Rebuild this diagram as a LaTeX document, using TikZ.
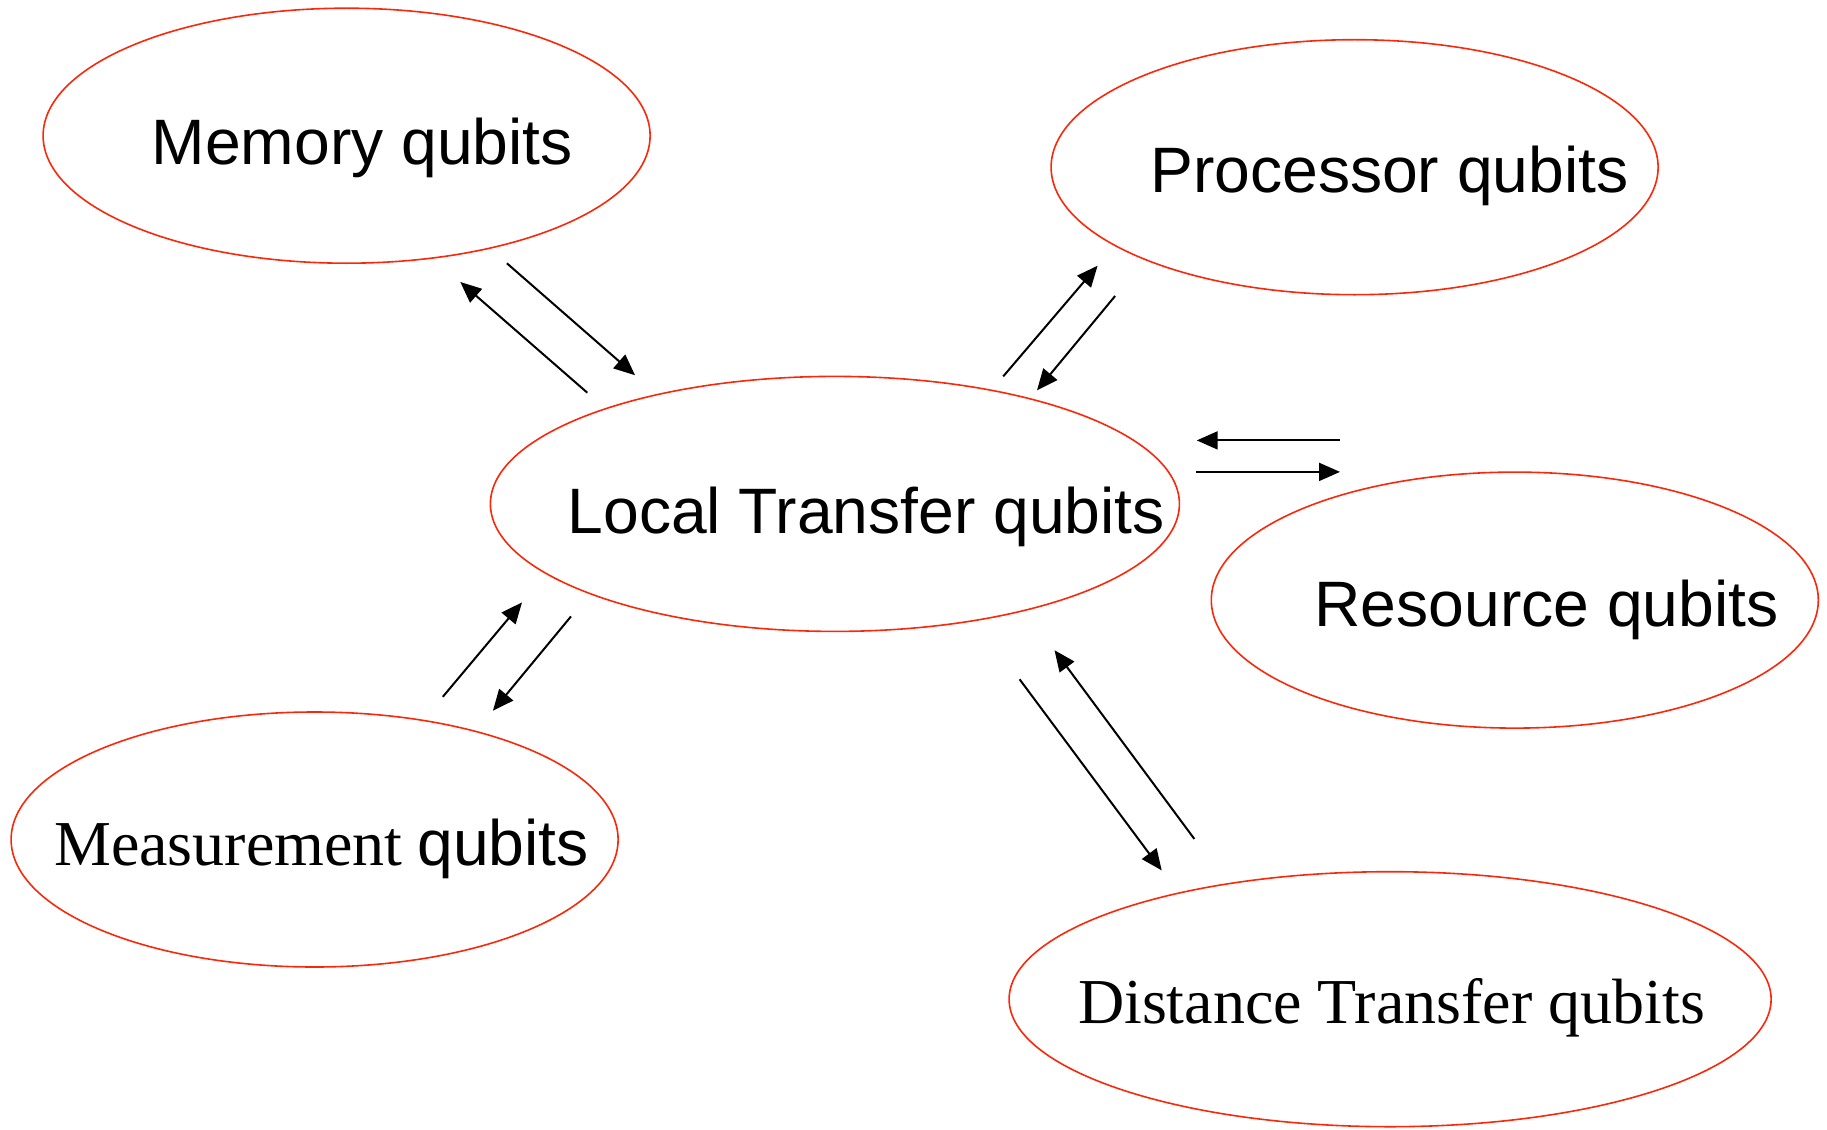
\documentclass[tikz,border=0pt]{standalone}
\usepackage{fontspec}
\setmainfont{Liberation Serif}
\newfontfamily\arialf{Liberation Sans}
\usetikzlibrary{shapes.geometric,arrows.meta}
\definecolor{ellred}{RGB}{250,40,10}
\begin{document}
\begin{tikzpicture}[x=1pt,y=-1pt,
  oval/.style={ellipse,draw=ellred,line width=1.6pt,inner sep=0pt},
  sanslbl/.style={anchor=base west,inner sep=0pt,font=\arialf\fontsize{64.2}{70}\selectfont},
  seriflbl/.style={anchor=base west,inner sep=0pt,font=\fontsize{64}{70}\selectfont},
  conn/.style={line width=2pt,-{Triangle[length=21pt,width=18pt]}}]
\useasboundingbox (0,0) rectangle (1827,1129);
% ellipses
\node[oval,minimum width=607pt,minimum height=255pt] (mem) at (346.6,135.7) {};
\node[oval,minimum width=607pt,minimum height=255pt] (proc) at (1354.6,167.2) {};
\node[oval,minimum width=689pt,minimum height=255pt] (loc) at (834.9,503.9) {};
\node[oval,minimum width=607pt,minimum height=256pt] (res) at (1514.8,600.1) {};
\node[oval,minimum width=607pt,minimum height=255pt] (meas) at (314.6,839.5) {};
\node[oval,minimum width=762pt,minimum height=255pt] (dist) at (1390.1,999.2) {};
% labels
\node[sanslbl] (tmem) at (151.5,164.3) {Memory qubits};
\node[sanslbl] (tproc) at (1150.1,192.3) {Processor qubits};
\node[sanslbl] (tloc) at (567.5,533.7) {Local Transfer qubits};
\node[sanslbl] (tres) at (1314.3,626.9) {Resource qubits};
\node[seriflbl] (tmeas) at (54.0,865.7) {Measurement\hspace{15pt}{\arialf\fontsize{64.2}{70}\selectfont qubits}};
\node[seriflbl] (tdist) at (1077.8,1023) {Distance Transfer qubits};
% arrow endpoints
\coordinate (a1s) at (506.9,263.3); \coordinate (a1e) at (635.0,375.2);
\coordinate (a2s) at (587.3,392.7); \coordinate (a2e) at (460.3,282.0);
\coordinate (a3s) at (1003.2,376.4); \coordinate (a3e) at (1097.6,265.7);
\coordinate (a4s) at (1115.1,296.0); \coordinate (a4e) at (1037.0,390.3);
\coordinate (a5s) at (1340,440.4); \coordinate (a5e) at (1196.7,440.4);
\coordinate (a6s) at (1195.5,471.9); \coordinate (a6e) at (1340,471.9);
\coordinate (a7s) at (442.8,696.8); \coordinate (a7e) at (522.0,602.4);
\coordinate (a8s) at (571.0,616.4); \coordinate (a8e) at (492.9,710.8);
\coordinate (a9s) at (1019.6,679.3); \coordinate (a9e) at (1161.7,870.4);
\coordinate (a10s) at (1194.3,838.9); \coordinate (a10e) at (1054.5,650.2);
\draw[conn] (a1s) -- (a1e);
\draw[conn] (a2s) -- (a2e);
\draw[conn] (a3s) -- (a3e);
\draw[conn] (a4s) -- (a4e);
\draw[conn] (a5s) -- (a5e);
\draw[conn] (a6s) -- (a6e);
\draw[conn] (a7s) -- (a7e);
\draw[conn] (a8s) -- (a8e);
\draw[conn] (a9s) -- (a9e);
\draw[conn] (a10s) -- (a10e);
\end{tikzpicture}
\end{document}
